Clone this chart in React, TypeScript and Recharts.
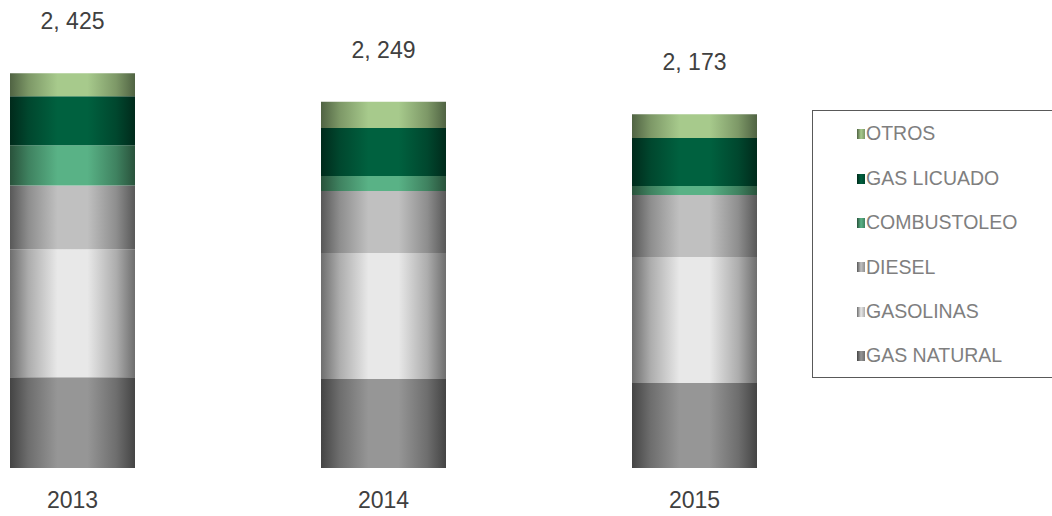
import { BarChart, Bar, XAxis, YAxis, LabelList } from 'recharts';

const years = ['2013', '2014', '2015'];
const gasNatural = [557, 546, 522];
const gasolinas = [786, 774, 774];
const diesel = [393, 381, 381];
const combustoleo = [246, 92, 55];
const gasLicuado = [301, 295, 295];
const otros = [142, 161, 146];
const totals = [2425, 2249, 2173];

const data = years.map((year, i) => ({
  year,
  gasNatural: gasNatural[i],
  gasolinas: gasolinas[i],
  diesel: diesel[i],
  combustoleo: combustoleo[i],
  gasLicuado: gasLicuado[i],
  otros: otros[i],
  total: totals[i],
}));

// bottom to top in the stack
const series = [
  { key: 'gasNatural', name: 'GAS NATURAL', edge: '#444444', mid: '#6e6e6e', center: '#969696' },
  { key: 'gasolinas', name: 'GASOLINAS', edge: '#6e6e6e', mid: '#adadad', center: '#e8e8e8' },
  { key: 'diesel', name: 'DIESEL', edge: '#585858', mid: '#8e8e8e', center: '#c0c0c0' },
  { key: 'combustoleo', name: 'COMBUSTOLEO', edge: '#29523b', mid: '#3f8260', center: '#59b286' },
  { key: 'gasLicuado', name: 'GAS LICUADO', edge: '#002a1b', mid: '#00472e', center: '#00613f' },
  { key: 'otros', name: 'OTROS', edge: '#506343', mid: '#7d9867', center: '#a7ca8c' },
];

const FONT = '"Liberation Sans", Arial, sans-serif';

const fmt = (v: number) => `${Math.floor(v / 1000)}, ${String(v % 1000).padStart(3, '0')}`;

const TotalLabel = (props: any) => {
  const { x, y, width, index } = props;
  return (
    <text x={x + width / 2} y={y - 44} textAnchor="middle" fontSize={23} fontFamily={FONT} fill="#404040">
      {fmt(totals[index])}
    </text>
  );
};

const LegendBox = () => (
  <div
    style={{
      position: 'absolute',
      left: 812,
      top: 110,
      width: 245,
      height: 268,
      border: '1px solid #595959',
      boxSizing: 'border-box',
      background: '#fff',
      fontFamily: FONT,
      paddingTop: 1,
    }}
  >
    {[...series].reverse().map(s => (
      <div key={s.key} style={{ height: 44.4, display: 'flex', alignItems: 'center' }}>
        <span
          style={{
            display: 'inline-block',
            flexShrink: 0,
            width: 8,
            height: 10,
            marginLeft: 44,
            marginRight: 1,
            background: `linear-gradient(to right, ${s.edge}, ${s.center} 50%, ${s.mid})`,
          }}
        />
        <span style={{ fontSize: 19.5, color: '#7f7f7f', lineHeight: 1 }}>{s.name}</span>
      </div>
    ))}
  </div>
);

export default function App() {
  return (
    <div style={{ position: 'absolute', left: 0, top: 0, width: 1052, height: 516 }}>
      <BarChart
        width={1052}
        height={516}
        data={data}
        barSize={125}
        margin={{ top: 61, right: 202, left: -83, bottom: 18 }}
      >
        <defs>
          {series.map(s => (
            <linearGradient key={s.key} id={`g-${s.key}`} x1="0" y1="0" x2="1" y2="0">
              <stop offset="0%" stopColor={s.edge} />
              <stop offset="15%" stopColor={s.mid} />
              <stop offset="38%" stopColor={s.center} />
              <stop offset="62%" stopColor={s.center} />
              <stop offset="85%" stopColor={s.mid} />
              <stop offset="100%" stopColor={s.edge} />
            </linearGradient>
          ))}
        </defs>
        <XAxis
          dataKey="year"
          axisLine={false}
          tickLine={false}
          tickSize={0}
          tickMargin={24}
          height={30}
          tick={{ fontSize: 23, fontFamily: FONT, fill: '#404040' }}
        />
        <YAxis hide domain={[0, 2500]} />
        {series.map((s, i) => (
          <Bar
            key={s.key}
            dataKey={s.key}
            name={s.name}
            stackId="a"
            fill={`url(#g-${s.key})`}
            isAnimationActive={false}
          >
            {i === series.length - 1 && <LabelList dataKey="total" content={<TotalLabel />} />}
          </Bar>
        ))}
      </BarChart>
      <LegendBox />
    </div>
  );
}
